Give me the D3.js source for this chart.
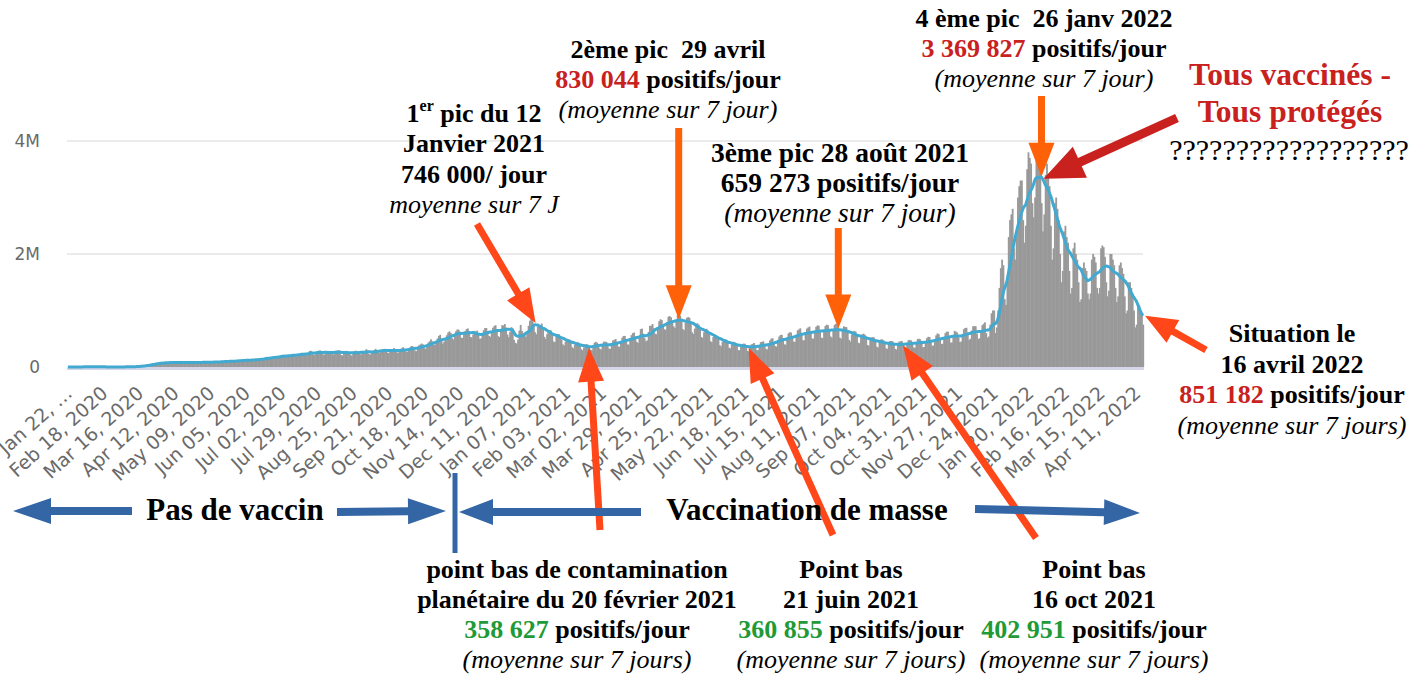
<!DOCTYPE html>
<html lang="fr">
<head>
<meta charset="UTF-8">
<title>Cas positifs Covid-19 dans le monde</title>
<style>
  body { margin: 0; background: #fff; }
  .ann { font-family: "Liberation Serif", "Times New Roman", serif; font-size: 26px; white-space: pre; }
  .b { font-weight: bold; fill: #000; }
  .r { font-weight: bold; fill: #c9211e; }
  .g { font-weight: bold; fill: #1f9a37; }
  .i { font-style: italic; fill: #000; }
  .n { fill: #000; }
  .axis text { font-family: "DejaVu Sans", sans-serif; font-size: 17px; fill: #6a6a6a; }
  .xaxis text { font-size: 19px; }
</style>
<script src="https://cdn.jsdelivr.net/npm/d3@7"></script>
</head>
<body>
<svg width="1416" height="677"></svg>
<script>
// daily new positive cases worldwide, in units of 10 000
// 2020 starts on Wed Jan 22, one line per week (Sun..Sat)
var cases2020 = [
  0.1,0.1,0.1,0.1,
  0.1,0.2,0.2,0.2,0.2,0.2,0.2,
  0.3,0.3,0.4,0.4,0.3,0.3,0.3,
  0.3,0.2,0.2,0.2,1.5,0.5,0.2,
  0.2,0.2,0.2,0.1,0.1,0.1,0.1,
  0.1,0.1,0.1,0.1,0.1,0.2,0.2,
  0.2,0.2,0.2,0.2,0.3,0.3,0.4,
  0.4,0.4,0.5,0.7,0.8,1.0,1.1,
  1.2,1.5,1.6,1.9,2.8,3.0,3.3,
  3.3,4.0,4.0,5.0,6.1,6.5,6.3,
  6.0,6.0,6.7,7.5,7.8,8.6,8.0,
  7.3,6.9,7.6,8.1,8.4,8.7,7.9,
  7.4,7.0,7.2,8.0,8.8,9.0,8.2,
  7.6,7.4,7.4,8.0,8.5,8.9,8.8,
  7.3,7.0,7.7,8.3,8.8,9.2,8.6,
  7.8,7.6,8.1,9.0,9.2,9.6,8.8,
  7.9,7.7,8.6,9.3,9.8,10.0,9.6,
  8.8,8.8,9.6,10.2,10.7,10.9,10.5,
  9.8,9.1,9.8,10.5,11.8,12.6,12.3,
  10.9,10.0,11.2,12.0,12.9,13.1,12.8,
  11.4,10.9,12.1,13.5,14.0,14.3,13.6,
  12.8,12.4,13.9,14.6,15.0,16.3,18.0,
  14.8,14.8,16.5,17.2,17.9,19.0,18.8,
  16.5,16.2,18.0,20.9,20.7,21.8,19.5,
  18.3,17.6,19.6,21.4,22.2,23.3,21.9,
  20.2,19.2,21.3,22.8,24.0,25.3,24.2,
  21.8,20.8,23.2,24.6,28.3,28.7,26.1,
  21.8,21.3,24.0,28.1,28.9,29.4,26.3,
  22.6,21.5,25.5,27.3,28.2,28.4,26.4,
  23.2,22.0,25.8,28.4,29.2,29.4,26.6,
  21.2,20.3,25.6,27.4,28.6,27.6,25.8,
  21.6,20.0,25.1,28.2,28.9,28.1,26.0,
  23.4,22.0,25.8,28.5,28.5,31.5,28.5,
  23.0,21.8,24.7,28.7,29.6,32.1,30.3,
  26.5,24.8,28.0,30.6,31.7,32.2,31.8,
  25.6,24.4,28.5,31.0,31.4,33.5,30.2,
  26.3,24.7,28.1,31.8,33.3,34.9,31.7,
  27.3,26.5,31.7,34.2,36.7,37.2,35.3,
  29.0,28.1,33.9,38.4,40.0,41.5,40.0,
  33.5,32.0,39.6,43.2,45.6,49.0,45.6,
  39.6,39.2,45.7,50.5,55.0,57.0,49.6,
  41.3,44.7,48.9,56.3,61.0,63.0,60.5,
  51.0,48.6,55.9,63.4,66.5,66.0,62.6,
  51.6,51.5,57.5,63.7,67.3,68.2,63.7,
  53.0,52.5,57.8,63.8,58.0,64.5,58.0,
  50.0,50.5,59.5,65.3,68.8,69.0,62.0,
  55.0,53.5,61.5,69.4,72.5,74.0,66.6,
  54.5,53.0,64.0,74.0,73.5,76.0,70.0,
  57.5,52.7,62.5,70.5,68.5,48.0,43.0,
  41.5,48.5,64.5,74.5,64.0
];
// 2021 starts on Fri Jan 1
var cases2021 = [
  55.0,57.5,
  53.5,59.5,73.0,82.0,86.0,86.0,75.0,
  61.5,58.0,71.0,73.5,74.0,77.0,68.0,
  53.5,50.0,58.0,64.0,65.5,64.5,56.5,
  45.0,44.0,55.0,57.5,58.0,54.5,48.0,
  40.0,38.0,45.0,50.0,49.5,48.5,42.5,
  35.0,33.0,39.0,42.0,44.5,43.0,38.5,
  31.5,29.5,34.5,40.0,40.5,39.5,36.5,
  30.5,30.0,36.0,43.0,44.5,43.0,39.0,
  32.5,31.0,38.5,45.0,44.5,44.5,40.0,
  32.5,32.0,40.5,47.0,48.0,49.5,44.5,
  36.5,35.5,45.5,52.0,55.0,55.0,48.5,
  40.0,39.5,50.5,56.5,60.0,61.0,52.5,
  44.5,42.5,54.0,67.0,68.0,59.0,51.0,
  45.5,47.0,62.0,73.0,73.0,76.0,68.5,
  59.0,58.0,70.0,81.0,84.5,83.0,75.5,
  67.0,65.5,79.0,89.0,90.0,88.0,82.0,
  72.0,69.0,82.5,92.0,92.5,91.0,83.0,
  67.0,65.0,78.0,87.0,88.5,87.0,79.0,
  61.5,58.5,68.0,75.0,77.5,75.0,67.0,
  53.0,51.5,61.5,66.5,67.5,64.5,58.5,
  45.5,44.0,53.0,58.0,56.5,55.0,50.5,
  38.5,36.5,44.5,49.5,48.5,48.5,43.5,
  34.0,33.0,39.5,44.5,44.5,42.5,39.0,
  30.0,29.5,36.5,40.5,41.5,41.0,36.5,
  28.5,27.5,35.5,40.0,41.0,42.5,37.5,
  30.0,29.5,38.5,44.0,44.5,45.5,39.0,
  32.0,31.0,41.5,47.0,50.0,51.0,44.0,
  37.0,36.0,48.0,54.0,56.5,57.0,49.5,
  40.0,39.5,52.5,59.5,61.5,61.0,53.0,
  45.0,44.5,57.0,65.0,66.5,68.5,58.5,
  47.5,47.0,61.5,68.0,70.0,71.5,61.0,
  50.5,50.0,64.0,71.0,73.5,73.0,63.0,
  52.0,51.0,65.0,72.5,75.0,74.0,65.0,
  54.0,52.0,66.0,74.5,76.5,75.0,65.5,
  52.0,50.0,64.0,72.0,71.0,70.5,61.5,
  48.0,45.0,57.5,63.0,64.0,62.5,54.5,
  43.0,42.0,53.0,58.0,59.0,57.0,50.0,
  39.0,37.5,47.5,52.5,53.0,52.0,45.5,
  36.0,34.5,44.0,48.5,49.0,47.5,41.5,
  33.0,32.0,41.5,46.0,46.0,45.5,39.5,
  32.0,31.0,40.5,45.0,45.5,46.0,41.0,
  33.0,33.5,42.0,47.5,48.0,47.0,41.5,
  34.5,34.0,44.0,49.5,50.0,49.0,42.5,
  35.0,35.5,45.0,51.0,53.5,53.0,45.5,
  37.5,38.0,49.0,56.0,59.5,58.0,49.0,
  41.0,41.0,53.0,60.0,62.5,62.5,52.5,
  43.0,43.5,56.0,64.0,62.5,61.0,52.0,
  44.0,45.0,58.5,67.0,69.0,69.5,56.5,
  48.0,50.0,64.5,72.0,72.5,72.0,59.0,
  49.5,51.0,65.0,74.0,76.5,79.0,60.0,
  52.0,54.0,75.0,95.0,100.0,100.0,60.0,
  70.0,100.0,140.0,175.0,190.0,180.0
];
// 2022 starts on Sat Jan 1, ends Sat Apr 16
var cases2022 = [
  120,
  110,160,230,260,270,280,210,
  190,230,300,320,330,330,260,
  220,250,350,380,370,360,290,
  265,300,380,380,375,360,290,
  240,270,340,360,340,320,250,
  190,210,290,300,280,260,200,
  150,170,240,250,230,220,170,
  130,140,210,220,200,190,150,
  115,120,175,185,175,170,130,
  120,130,190,200,195,185,140,
  130,140,210,215,212,195,150,
  125,135,200,200,190,180,140,
  115,125,180,185,175,165,125,
  95,100,150,150,140,130,100,
  70,75,110,110,100,95,75
];

var yTicks = [0, 2e6, 4e6];
var yTickLabels = ["0", "2M", "4M"];
var xTickLabels = ["Jan 22, \u2026", "Feb 18, 2020", "Mar 16, 2020", "Apr 12, 2020", "May 09, 2020",
  "Jun 05, 2020", "Jul 02, 2020", "Jul 29, 2020", "Aug 25, 2020", "Sep 21, 2020", "Oct 18, 2020",
  "Nov 14, 2020", "Dec 11, 2020", "Jan 07, 2021", "Feb 03, 2021", "Mar 02, 2021", "Mar 29, 2021",
  "Apr 25, 2021", "May 22, 2021", "Jun 18, 2021", "Jul 15, 2021", "Aug 11, 2021", "Sep 07, 2021",
  "Oct 04, 2021", "Oct 31, 2021", "Nov 27, 2021", "Dec 24, 2021", "Jan 20, 2022", "Feb 16, 2022",
  "Mar 15, 2022", "Apr 11, 2022"];

// annotated events (7-day average)
var eventDates = ["2021-01-12", "2021-02-20", "2021-04-29", "2021-06-21", "2021-08-28", "2021-10-16", "2022-01-26", "2022-04-16"];
var eventValues = ["746 000", "358 627", "830 044", "360 855", "659 273", "402 951", "3 369 827", "851 182"];

var svg = d3.select("svg");
var parseIso = d3.timeParse("%Y-%m-%d"),
    parseTick = d3.timeParse("%b %d, %Y");

var daily = [];
[["2020-01-22", cases2020], ["2021-01-01", cases2021], ["2022-01-01", cases2022]].forEach(function(p) {
  var start = parseIso(p[0]);
  p[1].forEach(function(v, i) {
    daily.push({ date: d3.timeDay.offset(start, i), value: v * 1e4 });
  });
});
daily.forEach(function(d, i) {
  d.avg = d3.mean(daily.slice(Math.max(0, i - 6), i + 1), function(e) { return e.value; });
});

var x = d3.scaleTime()
    .domain([daily[0].date, daily[daily.length - 1].date])
    .range([68, 1143]);
var y = d3.scaleLinear().domain([0, 4e6]).range([367, 141]);
var bw = x(daily[1].date) - x(daily[0].date);

// grid
svg.append("g").selectAll("line").data(yTicks.slice(1)).join("line")
    .attr("x1", 67).attr("x2", 1143)
    .attr("y1", function(d) { return y(d); }).attr("y2", function(d) { return y(d); })
    .attr("stroke", "#ebebeb").attr("stroke-width", 2);

svg.append("g").attr("class", "axis").selectAll("text").data(yTicks).join("text")
    .attr("x", 40).attr("y", function(d) { return y(d); })
    .attr("dy", "0.36em").attr("text-anchor", "end")
    .text(function(d, i) { return yTickLabels[i]; });

// daily bars
svg.append("g").selectAll("rect").data(daily).join("rect")
    .attr("x", function(d) { return x(d.date) - bw / 2; })
    .attr("width", bw + 0.5)
    .attr("y", function(d) { return y(d.value); })
    .attr("height", function(d) { return y(0) - y(d.value); })
    .attr("fill", "#999");

svg.append("rect").attr("x", 67).attr("y", y(0)).attr("width", 1077).attr("height", 3).attr("fill", "#d6d6ea");

// 7-day average
svg.append("path").datum(daily)
    .attr("fill", "none").attr("stroke", "#42a9d0").attr("stroke-width", 3)
    .attr("d", d3.line().curve(d3.curveMonotoneX)
        .x(function(d) { return x(d.date); })
        .y(function(d) { return y(d.avg); }));

// x axis
var tickDates = xTickLabels.map(function(s, i) { return i === 0 ? daily[0].date : parseTick(s); });
var xAxis = svg.append("g").attr("class", "axis xaxis")
    .attr("transform", "translate(0," + y(0) + ")")
    .call(d3.axisBottom(x).tickValues(tickDates).tickSize(0)
        .tickFormat(function(d, i) { return xTickLabels[i]; }));
xAxis.select(".domain").remove();
xAxis.selectAll("text")
    .attr("x", 0).attr("y", 0).attr("dy", 0)
    .attr("text-anchor", "end")
    .attr("transform", "translate(5,28) rotate(-42)");

// arrows
function arrow(x1, y1, x2, y2, color, w, hl, hw) {
  var dx = x2 - x1, dy = y2 - y1, len = Math.sqrt(dx * dx + dy * dy);
  var ux = dx / len, uy = dy / len, px = -uy, py = ux;
  var bx = x2 - ux * hl, by = y2 - uy * hl;
  var pts = [
    [x1 + px * w / 2, y1 + py * w / 2], [bx + px * w / 2, by + py * w / 2],
    [bx + px * hw / 2, by + py * hw / 2], [x2, y2],
    [bx - px * hw / 2, by - py * hw / 2], [bx - px * w / 2, by - py * w / 2],
    [x1 - px * w / 2, y1 - py * w / 2]];
  svg.append("polygon").attr("points", pts.join(" ")).attr("fill", color);
}
function tipOf(i) {
  var t = parseIso(eventDates[i]);
  var d = daily.find(function(e) { return +e.date === +t; });
  return [x(d.date), y(d.avg)];
}
var orangeRed = "#ff4719", orange = "#ff6108", blue = "#3465a4";

var t;
t = tipOf(0); arrow(477, 224, t[0] - 2, t[1] - 2, orangeRed, 7, 34, 26);
t = tipOf(1); arrow(600, 530, t[0], t[1] + 1, orangeRed, 7, 34, 26);
t = tipOf(2); arrow(t[0], 128, t[0], t[1] - 1, orange, 7, 34, 26);
t = tipOf(3); arrow(833, 535, t[0], t[1] + 1, orangeRed, 7, 34, 26);
t = tipOf(4); arrow(t[0], 228, t[0], t[1] - 1, orange, 7, 34, 26);
t = tipOf(5); arrow(1036, 538, t[0], t[1] + 1, orangeRed, 7, 34, 26);
t = tipOf(6); arrow(t[0] + 4, 96, t[0] + 4, t[1] - 1, orange, 7, 34, 26);
arrow(1177, 118, t[0] + 6, t[1] + 1, "#c9211e", 9, 40, 34);
t = tipOf(7); arrow(1206, 350, t[0] + 2, t[1], orangeRed, 7, 32, 26);

// vaccine period arrows
arrow(132, 511, 13, 511, blue, 8, 38, 26);
arrow(337, 512, 446, 511, blue, 8, 38, 26);
arrow(641, 512, 459, 512, blue, 8, 34, 26);
arrow(975, 509, 1140, 513, blue, 8, 36, 26);
svg.append("line").attr("x1", 455).attr("x2", 455).attr("y1", 473).attr("y2", 553)
    .attr("stroke", blue).attr("stroke-width", 5);

// text blocks: centre x, first baseline, line step, lines, optional font size
function block(cx, y0, step, lines, size) {
  lines.forEach(function(line, k) {
    var txt = svg.append("text").attr("class", "ann")
        .attr("x", cx).attr("y", y0 + k * step).attr("text-anchor", "middle");
    if (size) txt.style("font-size", size + "px");
    var lift = 0;
    line.forEach(function(seg) {
      var ts = txt.append("tspan").text(seg[0]);
      if (seg[1] === "sup") {
        ts.attr("class", "b").style("font-size", "16px").attr("dy", -11);
        lift = 11;
      } else {
        ts.attr("class", seg[1]);
        if (lift) { ts.attr("dy", lift); lift = 0; }
      }
    });
  });
}

block(474, 122, 30.3, [
  [["1", "b"], ["er", "sup"], [" pic du 12", "b"]],
  [["Janvier 2021", "b"]],
  [[eventValues[0] + "/ jour", "b"]],
  [["moyenne sur 7 J", "i"]]]);
block(668, 58, 30, [
  [["2ème pic  29 avril", "b"]],
  [[eventValues[2], "r"], [" positifs/jour", "b"]],
  [["(moyenne sur 7 jour)", "i"]]]);
block(840, 162, 30, [
  [["3ème pic 28 août 2021", "b"]],
  [[eventValues[4] + " positifs/jour", "b"]],
  [["(moyenne sur 7 jour)", "i"]]], 27.5);
block(1044, 27, 30, [
  [["4 ème pic  26 janv 2022", "b"]],
  [[eventValues[6], "r"], [" positifs/jour", "b"]],
  [["(moyenne sur 7 jour)", "i"]]]);
block(1290, 85, 37, [
  [["Tous vaccinés -", "r"]],
  [["Tous protégés", "r"]]], 31.5);
block(1289, 160, 30, [[["??????????????????", "n"]]], 30);
block(1292, 342, 30.5, [
  [["Situation le", "b"]],
  [["16 avril 2022", "b"]],
  [[eventValues[7], "r"], [" positifs/jour", "b"]],
  [["(moyenne sur 7 jours)", "i"]]]);
block(577, 578, 30, [
  [["point bas de contamination", "b"]],
  [["planétaire du 20 février 2021", "b"]],
  [[eventValues[1], "g"], [" positifs/jour", "b"]],
  [["(moyenne sur 7 jours)", "i"]]]);
block(851, 578, 30, [
  [["Point bas", "b"]],
  [["21 juin 2021", "b"]],
  [[eventValues[3], "g"], [" positifs/jour", "b"]],
  [["(moyenne sur 7 jours)", "i"]]]);
block(1094, 578, 30, [
  [["Point bas", "b"]],
  [["16 oct 2021", "b"]],
  [[eventValues[5], "g"], [" positifs/jour", "b"]],
  [["(moyenne sur 7 jours)", "i"]]]);
block(235, 520, 0, [[["Pas de vaccin", "b"]]], 31);
block(807, 520, 0, [[["Vaccination de masse", "b"]]], 31);
</script>
</body>
</html>
